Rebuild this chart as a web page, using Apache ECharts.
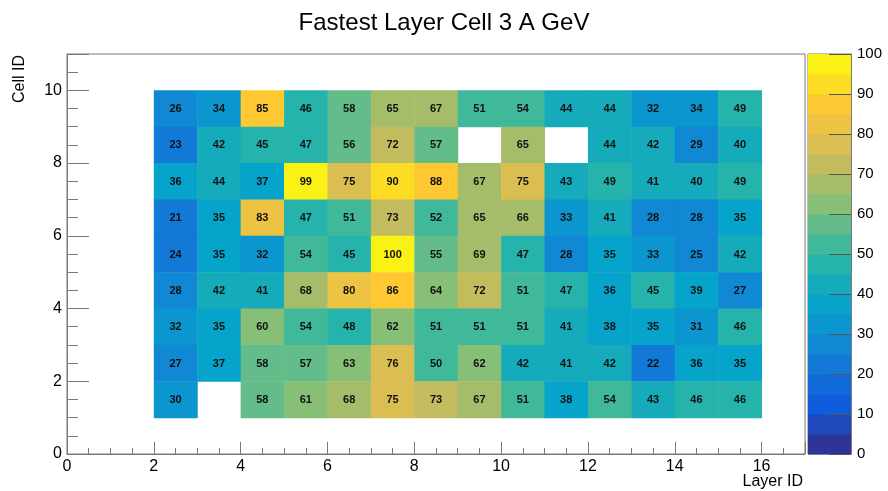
<!DOCTYPE html>
<html>
<head>
<meta charset="utf-8">
<script src="https://cdn.jsdelivr.net/npm/echarts@6/dist/echarts.min.js"></script>
<style>html,body{margin:0;padding:0;background:#fff;}#c{width:888px;height:491px;}</style>
</head>
<body>
<div id="c"></div>
<script>
// ---- data ----
const layerIds = [2,3,4,5,6,7,8,9,10,11,12,13,14,15];   // lower edge of each layer bin
const cellIds  = [9,8,7,6,5,4,3,2,1];                   // lower edge of each cell bin (top row first)
const values = [
  [26,34,85,46,58,65,67,51,54,44,44,32,34,49],
  [23,42,45,47,56,72,57,null,65,null,44,42,29,40],
  [36,44,37,99,75,90,88,67,75,43,49,41,40,49],
  [21,35,83,47,51,73,52,65,66,33,41,28,28,35],
  [24,35,32,54,45,100,55,69,47,28,35,33,25,42],
  [28,42,41,68,80,86,64,72,51,47,36,45,39,27],
  [32,35,60,54,48,62,51,51,51,41,38,35,31,46],
  [27,37,58,57,63,76,50,62,42,41,42,22,36,35],
  [30,null,58,61,68,75,73,67,51,38,54,43,46,46]
];
const levels = [0,5,10,15,20,25,30,35,40,45,50,55,60,65,70,75,80,85,90,95,100];
const xTicks = [0,2,4,6,8,10,12,14,16];
const yTicks = [0,2,4,6,8,10];
const zTicks = [0,10,20,30,40,50,60,70,80,90,100];

// ---- palette (ROOT kBird) ----
const st = [0,0.125,0.25,0.375,0.5,0.625,0.75,0.875,1];
const R = [0.2082,0.0592,0.0780,0.0232,0.1802,0.5301,0.8186,0.9956,0.9764];
const G = [0.1664,0.3599,0.5041,0.6419,0.7178,0.7492,0.7328,0.7862,0.9832];
const B = [0.5293,0.8684,0.8385,0.7914,0.6425,0.4662,0.3499,0.1968,0.0539];
function bird(f){
  let k = 0; while (k < st.length-2 && f > st[k+1]) k++;
  const t = (f - st[k])/(st[k+1]-st[k]);
  const c = a => Math.round(255*(a[k]+(a[k+1]-a[k])*t));
  return 'rgb('+c(R)+','+c(G)+','+c(B)+')';
}
const nb = levels.length-1;
const pieces = [];
for (let i=0;i<nb;i++){
  const f = (i+0.5)/nb;
  const p = {gte: levels[i], color: bird(f)};
  if (i===nb-1) p.lte = levels[i+1]; else p.lt = levels[i+1];
  pieces.push(p);
}

const cellData = [];
cellIds.forEach((cy,ri)=>{
  layerIds.forEach((lx,ci)=>{
    const v = values[ri][ci];
    if (v!==null) cellData.push([lx, cy, v]);
  });
});
const barData = [];
for (let i=0;i<nb;i++) barData.push([0, levels[i], (levels[i]+levels[i+1])/2, levels[i+1]]);
const zTickData = zTicks.map(v => [1, v]);

const FONT = 'Liberation Sans, Arial, Helvetica, sans-serif';
const axisGray = '#7a7a7a';

const chart = echarts.init(document.getElementById('c'), null, {renderer:'canvas'});
chart.setOption({
  backgroundColor:'#fff',
  animation:false,
  title:{text:'Fastest Layer Cell 3 A GeV', left:'center', top:6,
    textStyle:{fontFamily:FONT, fontWeight:'normal', fontSize:24, color:'#000'}},
  grid:[
    {left:67, right:83, top:54, bottom:37, show:true, borderColor:axisGray, borderWidth:1, backgroundColor:'transparent'},
    {left:808, width:43, top:54, bottom:37, show:true, borderColor:axisGray, borderWidth:1, backgroundColor:'transparent'}
  ],
  xAxis:[
    {type:'value', gridIndex:0, position:'bottom', min:0, max:17, interval:2, z:5,
      axisLine:{show:true, onZero:false, lineStyle:{color:axisGray}},
      axisTick:{show:true, inside:true, length:12, lineStyle:{color:axisGray}},
      axisLabel:{margin:5, fontSize:16, fontFamily:FONT, color:'#000',
        formatter:v=> xTicks.indexOf(v)>=0 ? String(v) : ''},
      splitLine:{show:false}},
    {type:'value', gridIndex:0, position:'bottom', min:0, max:17, interval:0.5, z:5,
      axisLine:{show:false, onZero:false}, axisLabel:{show:false}, splitLine:{show:false},
      axisTick:{show:true, inside:true, length:6, lineStyle:{color:axisGray}}},
    {type:'value', gridIndex:1, position:'bottom', min:0, max:1, show:false}
  ],
  yAxis:[
    {type:'value', gridIndex:0, position:'left', min:0, max:11, interval:2, z:5,
      axisLine:{show:true, onZero:false, lineStyle:{color:axisGray}},
      axisTick:{show:true, inside:true, length:22, lineStyle:{color:axisGray}},
      axisLabel:{margin:5, fontSize:16, fontFamily:FONT, color:'#000',
        formatter:v=> yTicks.indexOf(v)>=0 ? String(v) : ''},
      splitLine:{show:false}},
    {type:'value', gridIndex:0, position:'left', min:0, max:11, interval:0.5, z:5,
      axisLine:{show:false, onZero:false}, axisLabel:{show:false}, splitLine:{show:false},
      axisTick:{show:true, inside:true, length:11, lineStyle:{color:axisGray}}},
    {type:'value', gridIndex:1, position:'right', min:0, max:100, interval:10,
      axisLine:{show:true, onZero:false, lineStyle:{color:axisGray}},
      axisTick:{show:false},
      axisLabel:{margin:6, fontSize:15, fontFamily:FONT, color:'#000',
        formatter:v=> zTicks.indexOf(v)>=0 ? String(v) : ''},
      splitLine:{show:false}}
  ],
  visualMap:{type:'piecewise', show:false, dimension:2, seriesIndex:[0,1], pieces:pieces},
  series:[
    {type:'custom', xAxisIndex:0, yAxisIndex:0, data:cellData, encode:{x:0,y:1},
      z:1,
      renderItem:(params, api)=>{
        const x = api.value(0), y = api.value(1), v = api.value(2);
        const p1 = api.coord([x, y+1]), p2 = api.coord([x+1, y]);
        const w = p2[0]-p1[0], h = p2[1]-p1[1];
        return {type:'group', children:[
          {type:'rect', shape:{x:p1[0], y:p1[1], width:w+0.5, height:h+0.5},
            style:{fill:api.visual('color')}},
          {type:'text', style:{text:String(v), x:p1[0]+w/2, y:p1[1]+h/2+0.5,
            align:'center', verticalAlign:'middle', fill:'#111',
            font:'bold 11px '+FONT}}
        ]};
      }},
    {type:'custom', xAxisIndex:2, yAxisIndex:2, data:barData, encode:{x:0,y:1},
      z:1, clip:false,
      renderItem:(params, api)=>{
        const lo = api.value(1), hi = api.value(3);
        const p1 = api.coord([0, hi]), p2 = api.coord([1, lo]);
        return {type:'rect', shape:{x:p1[0], y:p1[1], width:p2[0]-p1[0], height:p2[1]-p1[1]+0.5},
          style:{fill:api.visual('color')}};
      }},
    {type:'custom', xAxisIndex:2, yAxisIndex:2, data:zTickData, encode:{x:0,y:1},
      z:10, clip:false,
      renderItem:(params, api)=>{
        const p = api.coord([api.value(0), api.value(1)]);
        const y = Math.round(p[1]) + 0.5;
        return {type:'line', shape:{x1:p[0]-22, y1:y, x2:p[0], y2:y},
          style:{stroke:'#555', lineWidth:1}};
      }}
  ],
  graphic:[
    {type:'text', right:85, top:474, style:{text:'Layer ID', font:'16px '+FONT, fill:'#000'}},
    {type:'text', x:12, y:55, rotation:Math.PI/2, style:{text:'Cell ID', font:'16px '+FONT, fill:'#000', align:'right', verticalAlign:'top'}}
  ]
});
</script>
</body>
</html>
